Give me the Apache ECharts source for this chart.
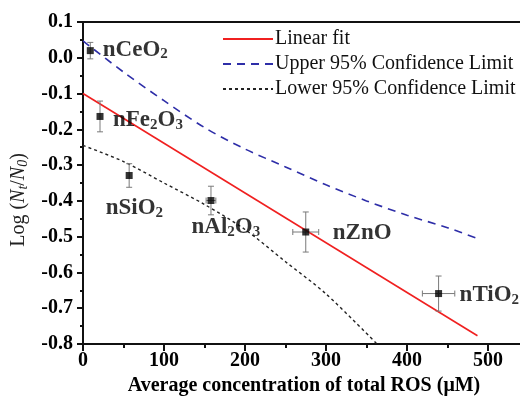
<!DOCTYPE html>
<html>
<head>
<meta charset="utf-8">
<script src="https://cdn.jsdelivr.net/npm/echarts@6/dist/echarts.min.js"></script>
<style>
  html, body { margin: 0; padding: 0; background: #fff; }
  #chart { width: 520px; height: 398px; }
</style>
</head>
<body>
<div id="chart"></div>
<script>
// measured points (ROS concentration vs log survival)
const materials = ['nCeO2', 'nFe2O3', 'nSiO2', 'nAl2O3', 'nZnO', 'nTiO2']
const materialLabels = ['nCeO{s|2}', 'nFe{s|2}O{s|3}', 'nSiO{s|2}', 'nAl{s|2}O{s|3}', 'nZnO', 'nTiO{s|2}']
const rosConc = [9, 21, 57, 158, 275, 439]
const rosErr = [0, 0, 0, 6, 16, 20]
const logSurvival = [0.02, -0.164, -0.329, -0.399, -0.487, -0.659]
const logErr = [0.023, 0.043, 0.033, 0.04, 0.056, 0.049]

// fit and confidence limits
const fitX = [0, 487]
const fitY = [-0.1, -0.777]
const upperX = [0, 50, 100, 150, 200, 250, 300, 350, 400, 450, 487]
const upperY = [0.047, -0.04, -0.12, -0.195, -0.255, -0.305, -0.355, -0.40, -0.44, -0.475, -0.505]
const lowerX = [0, 50, 100, 150, 200, 250, 300, 363]
const lowerY = [-0.245, -0.29, -0.35, -0.41, -0.48, -0.57, -0.66, -0.80]

const xTicks = [0, 100, 200, 300, 400, 500]
const yTicks = [0.1, 0.0, -0.1, -0.2, -0.3, -0.4, -0.5, -0.6, -0.7, -0.8]

const SERIF = '"Liberation Serif", "DejaVu Serif", serif'

// label offsets next to each point
const labelPlace = [
  [4, -1], [4.5, 4], [-32, 33], [-28, 27], [18.5, 1], [12.5, 2],
]

const chart = echarts.init(document.getElementById('chart'))

function pair(xs, ys) { return xs.map((x, i) => [x, ys[i]]) }

const labelRich = {
  s: { fontSize: 15, fontWeight: 'bold', fontFamily: SERIF, color: '#000', padding: [10, 0, 0, 0] },
}

chart.setOption({
  animation: false,
  grid: { left: 83, top: 22, width: 486, bottom: 54, outerBoundsMode: 'none', containLabel: false },
  legend: {
    orient: 'vertical',
    left: 217,
    top: 24,
    itemWidth: 50,
    itemHeight: 14,
    itemGap: 5,
    data: ['Linear fit', 'Upper 95% Confidence Limit', 'Lower 95% Confidence Limit'],
    itemStyle: { color: 'transparent', borderColor: 'transparent', borderWidth: 0 },
    textStyle: { fontFamily: SERIF, fontSize: 20, color: '#111', padding: [0, 0, 0, -3] },
  },
  xAxis: [{
    type: 'value',
    min: 0, max: 600, interval: 100,
    name: 'Average concentration of total ROS (\u03bcM)',
    nameLocation: 'middle',
    nameGap: 30,
    nameTextStyle: { fontFamily: SERIF, fontSize: 20, fontWeight: 'bold', color: '#000', padding: [0, 44, 0, 0] },
    axisLine: { onZero: false, lineStyle: { color: '#111', width: 2 } },
    axisTick: { length: 7, lineStyle: { color: '#111', width: 2 } },
    minorTick: { show: true, splitNumber: 2, length: 4, lineStyle: { color: '#111', width: 2 } },
    axisLabel: {
      margin: 7, fontFamily: SERIF, fontSize: 20, fontWeight: 'bold', color: '#000',
      formatter: (v) => (xTicks.includes(v) ? String(v) : ''),
    },
    splitLine: { show: false },
  }, {
    type: 'value', position: 'top',
    min: 0, max: 600,
    axisLine: { show: true, onZero: false, lineStyle: { color: '#111', width: 2 } },
    axisTick: { show: false }, axisLabel: { show: false }, splitLine: { show: false },
  }],
  yAxis: {
    type: 'value',
    min: -0.8, max: 0.1, interval: 0.1,
    name: 'Log ({i|N}{is|t}/{i|N}{is|0})',
    nameLocation: 'middle',
    nameGap: 53,
    nameRotate: 90,
    nameTextStyle: {
      fontFamily: SERIF, fontSize: 20, color: '#222', padding: [0, 34, 0, 0],
      rich: {
        i: { fontFamily: SERIF, fontSize: 20, fontStyle: 'italic', color: '#222' },
        is: { fontFamily: SERIF, fontSize: 14, fontStyle: 'italic', color: '#222', padding: [9, 0, 0, 0] },
      },
    },
    axisLine: { show: true, onZero: false, lineStyle: { color: '#111', width: 2 } },
    axisTick: { length: 6, lineStyle: { color: '#111', width: 2 } },
    minorTick: { show: true, splitNumber: 2, length: 3, lineStyle: { color: '#111', width: 2 } },
    axisLabel: {
      margin: 10, fontFamily: SERIF, fontSize: 20, fontWeight: 'bold', color: '#000',
      formatter: (v) => {
        const t = yTicks.find((k) => Math.abs(k - v) < 1e-6)
        return t === undefined ? '' : t.toFixed(1)
      },
    },
    splitLine: { show: false },
  },
  series: [
    {
      name: 'Linear fit',
      type: 'line',
      data: pair(fitX, fitY),
      symbol: 'none',
      lineStyle: { color: '#f02020', width: 1.6 },
      itemStyle: { color: '#f02020' },
      z: 3,
    },
    {
      name: 'Upper 95% Confidence Limit',
      type: 'line',
      data: pair(upperX, upperY),
      smooth: 0.3,
      symbol: 'none',
      lineStyle: { color: '#2e2ea8', width: 1.6, type: [8, 6] },
      itemStyle: { color: '#2e2ea8' },
      z: 3,
    },
    {
      name: 'Lower 95% Confidence Limit',
      type: 'line',
      data: pair(lowerX, lowerY),
      smooth: 0.3,
      symbol: 'none',
      lineStyle: { color: '#222', width: 1.4, type: [3, 3] },
      itemStyle: { color: '#222' },
      z: 3,
    },
    {
      name: 'error',
      type: 'custom',
      data: rosConc.map((x, i) => [x, logSurvival[i], rosErr[i], logErr[i]]),
      renderItem: (params, api) => {
        const x = api.value(0), y = api.value(1), ex = api.value(2), ey = api.value(3)
        const top = api.coord([x, y + ey])
        const bot = api.coord([x, y - ey])
        const cap = 3
        const style = { stroke: '#7a7a7a', lineWidth: 1 }
        const kids = [
          { type: 'line', shape: { x1: top[0], y1: top[1], x2: bot[0], y2: bot[1] }, style },
          { type: 'line', shape: { x1: top[0] - cap, y1: top[1], x2: top[0] + cap, y2: top[1] }, style },
          { type: 'line', shape: { x1: bot[0] - cap, y1: bot[1], x2: bot[0] + cap, y2: bot[1] }, style },
        ]
        if (ex > 0) {
          const l = api.coord([x - ex, y])
          const r = api.coord([x + ex, y])
          kids.push(
            { type: 'line', shape: { x1: l[0], y1: l[1], x2: r[0], y2: r[1] }, style },
            { type: 'line', shape: { x1: l[0], y1: l[1] - cap, x2: l[0], y2: l[1] + cap }, style },
            { type: 'line', shape: { x1: r[0], y1: r[1] - cap, x2: r[0], y2: r[1] + cap }, style },
          )
        }
        return { type: 'group', children: kids }
      },
      z: 4,
    },
    {
      name: 'points',
      type: 'scatter',
      symbol: 'rect',
      symbolSize: 7,
      itemStyle: { color: '#000' },
      data: rosConc.map((x, i) => ({
        name: materials[i],
        value: [x, logSurvival[i]],
        label: {
          show: true,
          position: 'right',
          distance: 5,
          offset: labelPlace[i],
          formatter: materialLabels[i],
          fontFamily: SERIF, fontSize: 23, fontWeight: 'bold', color: '#000',
          rich: labelRich,
        },
      })),
      z: 5,
    },
  ],
})
</script>
</body>
</html>
